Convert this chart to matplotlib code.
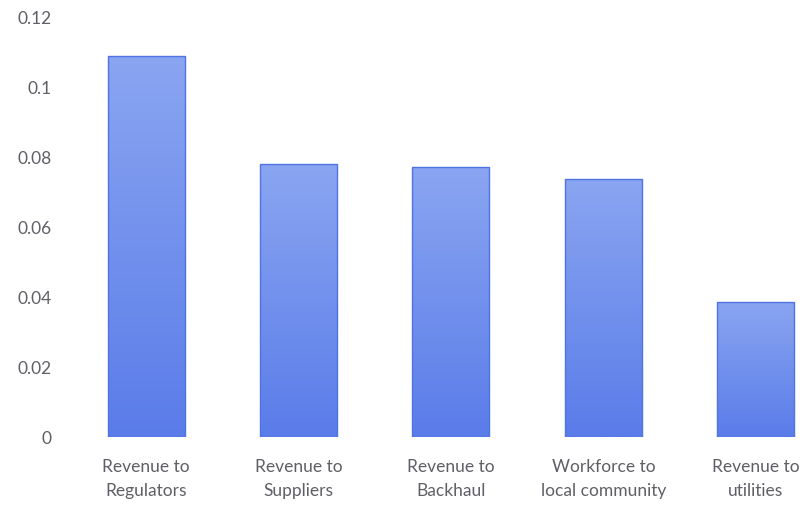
import matplotlib.pyplot as plt
import numpy as np
from matplotlib.colors import LinearSegmentedColormap

categories = [
    "Revenue to\nRegulators",
    "Revenue to\nSuppliers",
    "Revenue to\nBackhaul",
    "Workforce to\nlocal community",
    "Revenue to\nutilities",
]
values = [0.1089, 0.0780, 0.0771, 0.0737, 0.0386]
yticks = [0, 0.02, 0.04, 0.06, 0.08, 0.1, 0.12]
ytick_labels = ["0", "0.02", "0.04", "0.06", "0.08", "0.1", "0.12"]

plt.rcParams["font.family"] = ["Lato", "DejaVu Sans"]

fig = plt.figure(figsize=(8.06, 5.06), dpi=100)
ax = fig.add_axes([70 / 806, 68 / 506, 736 / 806, 420 / 506])

x = np.arange(len(categories))
bars = ax.bar(x, values, width=0.505, color="none", edgecolor="#5073e4", linewidth=1.0, zorder=3)

# vertical gradient fill, lighter at the top
cmap = LinearSegmentedColormap.from_list("barfill", ["#5a7ce9", "#8aa5f1"])
grad = np.linspace(0, 1, 256).reshape(-1, 1)
for b in bars:
    bx, by = b.get_x(), b.get_y()
    w, h = b.get_width(), b.get_height()
    im = ax.imshow(grad, cmap=cmap, origin="lower", aspect="auto",
                   extent=[bx, bx + w, by, by + h], zorder=2)
    im.set_clip_path(b)

ax.set_xlim(-0.5, 4.33)
ax.set_ylim(0, 0.12)
ax.set_xticks(x)
ax.set_xticklabels(categories, fontsize=12.5, color="#5f5f66", linespacing=1.6)
ax.set_yticks(yticks)
ax.set_yticklabels(ytick_labels, fontsize=12.5, color="#5f5f66")
ax.tick_params(axis="both", length=0)
ax.tick_params(axis="x", pad=15)
ax.tick_params(axis="y", pad=13)
for s in ax.spines.values():
    s.set_visible(False)

fig.savefig("out.png", dpi=100)
